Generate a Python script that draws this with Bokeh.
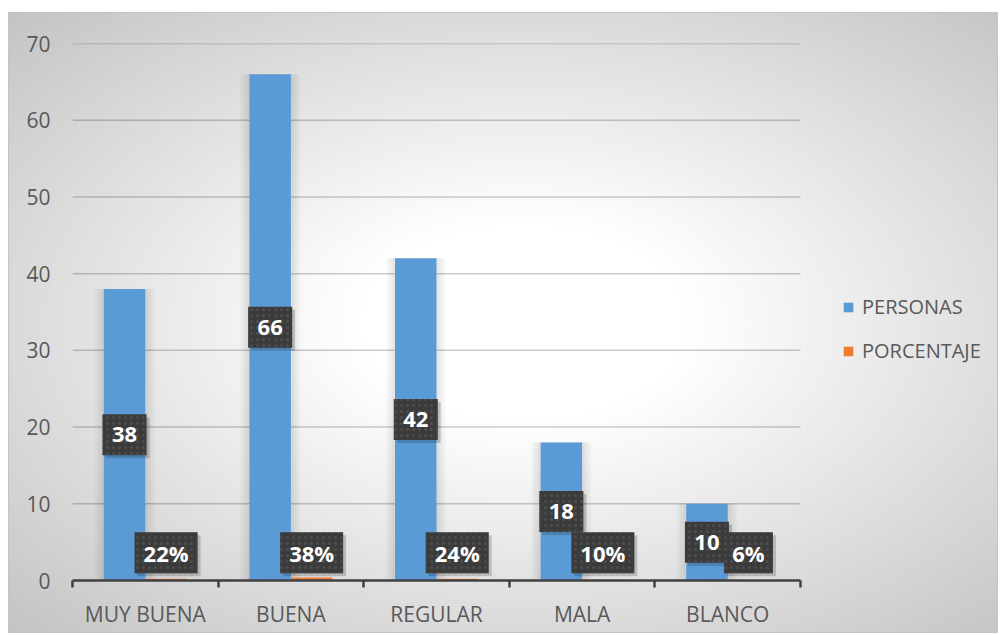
from bokeh.plotting import figure
from bokeh.models import Range1d, FixedTicker, Legend, LegendItem, ColumnDataSource
from bokeh.core.properties import value
from bokeh.embed import file_html
from bokeh.resources import INLINE

categories = ["MUY BUENA", "BUENA", "REGULAR", "MALA", "BLANCO"]
personas = [38, 66, 42, 18, 10]
porcentaje = [0.22, 0.38, 0.24, 0.10, 0.06]
y_ticks = [0, 10, 20, 30, 40, 50, 60, 70]

FONT = "Open Sans"
BAR_W = 0.285
N = len(categories)
Y_MAX = 70

# layout (pixels)
FIG_W, FIG_H = 990, 621
B_LEFT, B_TOP, B_BOTTOM = 64, 31, 53
FRAME_W = FIG_W - B_LEFT
FRAME_H = FIG_H - B_TOP - B_BOTTOM
AXIS_W = 728                      # width of the category axis
PX_X = AXIS_W / N                 # px per category unit
PX_Y = FRAME_H / Y_MAX            # px per value unit
x_max = FRAME_W / PX_X

# label boxes
BOX_H = 41
FLOOR = 27.7 / PX_Y               # lowest label centre (Excel keeps boxes above the axis)
SH_DX, SH_DY = 3 / PX_X, -3 / PX_Y


def box_w(s):
    return 16 + 14 * sum(ch.isdigit() for ch in s) + 19 * s.count("%")


def label_source(xs, vals, labs):
    mids = [max(v / 2, FLOOR) for v in vals]
    return ColumnDataSource(dict(
        x=xs, top=vals, mid=mids, lab=labs, w=[box_w(s) for s in labs],
        sx=[x + SH_DX for x in xs], sy=[m + SH_DY for m in mids],
    ))


centers = [i + 0.5 for i in range(N)]
src_p = label_source([c - BAR_W / 2 for c in centers], personas, [str(v) for v in personas])
src_c = label_source([c + BAR_W / 2 for c in centers], porcentaje,
                     [f"{round(v * 100)}%" for v in porcentaje])

p = figure(width=FIG_W, height=FIG_H, output_backend="svg", toolbar_location=None,
           x_range=Range1d(0, x_max), y_range=Range1d(0, Y_MAX),
           min_border_left=B_LEFT, min_border_right=0, min_border_top=B_TOP,
           min_border_bottom=B_BOTTOM)
p.border_fill_color = None
p.background_fill_color = None
p.outline_line_color = None
p.styles = {
    "margin-top": "12px",
    "margin-left": "8px",
    "background": "radial-gradient(ellipse farthest-corner at 52% 50%, #ffffff 0%, #ffffff 22%, #c3c3c3 100%)",
    "box-shadow": "inset 0 0 0 1px #c4c4c4",
}

# grid lines (only across the category axis)
p.xgrid.visible = False
p.ygrid.visible = False
grid_y = y_ticks[1:]
p.segment(x0=[0] * len(grid_y), x1=[N] * len(grid_y), y0=grid_y, y1=grid_y,
          line_color="black", line_alpha=0.2, line_width=1.5)

# y axis
p.yaxis.ticker = FixedTicker(ticks=y_ticks)
p.yaxis.axis_line_color = None
p.yaxis.major_tick_line_color = None
p.yaxis.major_tick_out = 0
p.yaxis.major_tick_in = 0
p.yaxis.minor_tick_line_color = None
p.yaxis.minor_tick_out = 0
p.yaxis.major_label_standoff = 22
p.yaxis.major_label_text_font = FONT
p.yaxis.major_label_text_font_size = "21px"
p.yaxis.major_label_text_color = "#595959"

# x axis
p.xaxis.bounds = (0, N)
p.xaxis.ticker = FixedTicker(ticks=centers, minor_ticks=list(range(N + 1)))
p.xaxis.major_label_overrides = {c: name for c, name in zip(centers, categories)}
p.xaxis.axis_line_color = "#404040"
p.xaxis.axis_line_width = 2.5
p.xaxis.major_tick_line_color = None
p.xaxis.major_tick_out = 0
p.xaxis.major_tick_in = 0
p.xaxis.minor_tick_line_color = "#404040"
p.xaxis.minor_tick_line_width = 2.5
p.xaxis.minor_tick_out = 7
p.xaxis.minor_tick_in = 0
p.xaxis.major_label_standoff = 12
p.xaxis.major_label_text_font = FONT
p.xaxis.major_label_text_font_size = "21px"
p.xaxis.major_label_text_color = "#595959"

# soft glow behind the blue bars
for grow in (3, 6, 9):
    p.vbar(x="x", top="top", width=BAR_W + 2 * grow / PX_X, bottom=0, source=src_p,
           fill_color="black", fill_alpha=0.03, line_color=None)

# bars
r_p = p.vbar(x="x", top="top", width=BAR_W, bottom=0, source=src_p, color="#5B9BD5", line_color=None)
r_c = p.vbar(x="x", top="top", width=BAR_W, bottom=0, source=src_c, color="#ED7D31", line_color=None)

# data labels: dark dotted boxes with a drop shadow
for src in (src_p, src_c):
    p.rect(x="sx", y="sy", width="w", height=BOX_H, width_units="screen", height_units="screen",
           source=src, fill_color="black", fill_alpha=0.18, line_color=None)
    p.rect(x="x", y="mid", width="w", height=BOX_H, width_units="screen", height_units="screen",
           source=src, fill_color="#3b3b3b", line_color=None,
           hatch_pattern="dot", hatch_color="#4d4d4d", hatch_scale=6, hatch_weight=1)
    p.text(x="x", y="mid", text="lab", source=src, text_font=value(FONT),
           text_font_style="bold", text_font_size="22px", text_align="center",
           text_baseline="middle", text_color="white")

legend = Legend(items=[LegendItem(label="PERSONAS", renderers=[r_p]),
                       LegendItem(label="PORCENTAJE", renderers=[r_c])],
                location=(770, 216), border_line_color=None, background_fill_color=None,
                background_fill_alpha=0, padding=0, margin=0, glyph_width=12, glyph_height=12,
                label_height=24, spacing=17, label_standoff=8,
                label_text_font=FONT, label_text_font_size="20px", label_text_color="#595959")
p.add_layout(legend)

open("out.html", "w").write(file_html(p, INLINE))
